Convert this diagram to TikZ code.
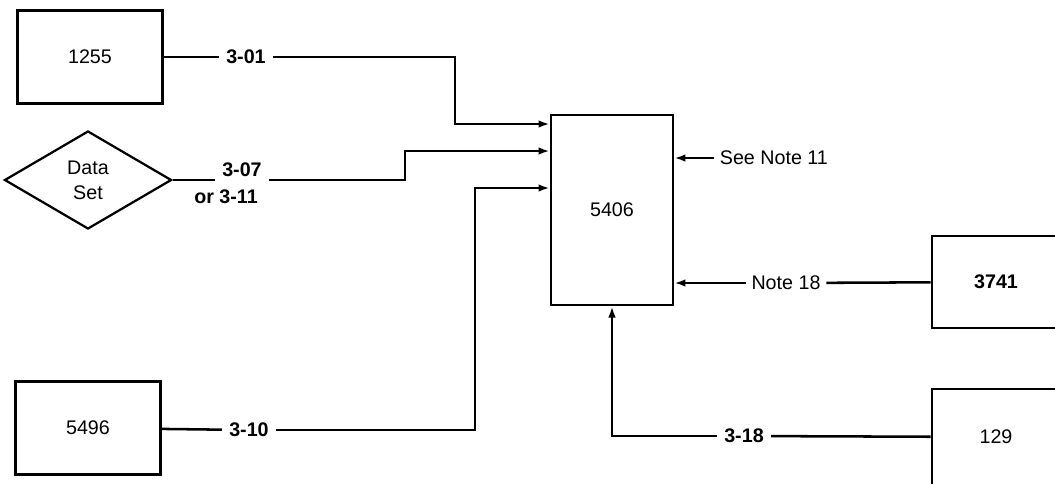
\documentclass[tikz,border=0pt]{standalone}
\usepackage{fontspec}
\setmainfont{Liberation Sans}
\usepackage{tikz}
\usetikzlibrary{positioning,arrows.meta,shapes.geometric,calc}

\begin{document}
\begin{tikzpicture}[
  x=0.025cm,y=-0.025cm,
  font=\fontsize{14}{17}\selectfont,
  box/.style={draw,line width=1.8pt,minimum width=3.625cm,minimum height=2.325cm,
              align=center,inner sep=3pt},
  dia/.style={draw,diamond,line width=1.6pt,minimum width=4.175cm,minimum height=2.45cm,
              align=center,inner sep=0pt},
  lbl/.style={font=\fontsize{14}{17}\selectfont\bfseries,inner sep=5pt},
  note/.style={inner sep=4pt},
  ln/.style={line width=1.8pt},
  arr/.style={ln,-{Latex[length=2.8mm,width=1.9mm]}},
]
\useasboundingbox (0,0) rectangle (1055,483);
\clip (0,0) rectangle (1055,483);

% Sources on the left
\node[box] (b1255) at (90,57) {1255};
\node[dia] (ds) at (88,180) {Data\\[1pt]Set};
\node[box] (b5496) at (88,428) {5496};

% Central unit
\node[box,minimum width=3.05cm,minimum height=4.75cm] (m) at (612,210) {5406};

% Units on the right (cut off by the page edge)
\node[box,minimum width=3.2cm,minimum height=2.3cm,font=\fontsize{14}{17}\selectfont\bfseries] (b3741) at (996,282) {3741};
\node[box,minimum width=3.2cm,minimum height=2.4cm] (b129) at (996,437) {129};

% Cable labels
\node[lbl] (l301) at (246,57) {3-01};
\node[lbl] (l307) at (242,170) {3-07};
\node[lbl] (lor) at (226,197) {or 3-11};
\node[lbl] (l310) at (249,430) {3-10};
\node[lbl] (l318) at (744,436) {3-18};
\node[note,anchor=west] (n11) at (714,158) {See Note 11};
\node[note] (n18) at (786,283) {Note 18};

% Bend points
\coordinate (j1) at (455,124);
\coordinate (j2) at (405,151);
\coordinate (j3) at (475,188);

% Inputs from the left
\draw[ln] (b1255) -- (l301);
\draw[arr] (l301) -| (j1) -- (j1 -| m.west);

\draw[ln] (ds.east) -- (ds.east -| l307.west);
\draw[arr] (ds.east -| l307.east) -| (j2) -- (j2 -| m.west);

\draw[ln] (b5496) -- (l310);
\draw[arr] (l310) -| (j3) -- (j3 -| m.west);

% Inputs from the right
\draw[arr] (n11) -- (n11 -| m.east);
\draw[ln] (b3741) -- (n18);
\draw[arr] (n18) -- (n18 -| m.east);
\draw[ln] (b129) -- (l318);
\draw[arr] (l318) -| (m.south);
\end{tikzpicture}
\end{document}
